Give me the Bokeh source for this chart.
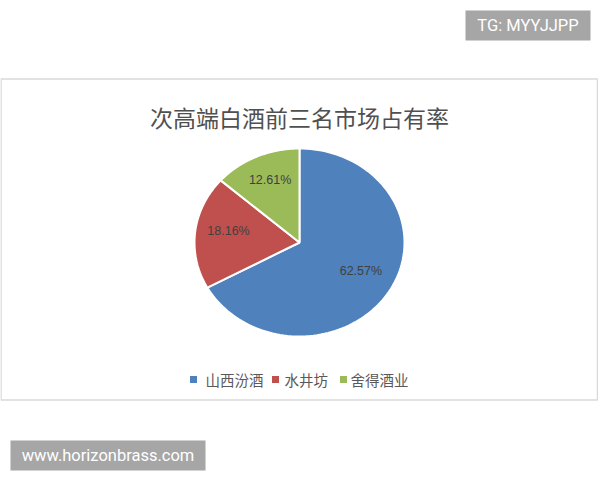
import numpy as np
from bokeh.plotting import figure
from bokeh.models import Range1d, ColumnDataSource
from bokeh.core.properties import value
from bokeh.embed import file_html
from bokeh.resources import INLINE

# ---- data ----
title_text = "次高端白酒前三名市场占有率"
categories = ["山西汾酒", "水井坊", "舍得酒业"]
shares = [62.57, 18.16, 12.61]
share_labels = ["62.57%", "18.16%", "12.61%"]
colors = ["#4F81BD", "#C0504D", "#9BBB59"]
watermark_top = "TG: MYYJJPP"
watermark_bottom = "www.horizonbrass.com"

# ---- layout (pixel coordinates of the window) ----
W, H = 598, 472
p = figure(width=W, height=H, x_range=Range1d(0, W), y_range=Range1d(H, 0),
           output_backend="svg", toolbar_location=None, min_border=0,
           x_axis_type=None, y_axis_type=None)
p.grid.visible = False
p.outline_line_color = None
p.background_fill_color = "white"
p.border_fill_color = "white"

# chart frame
p.quad(left=[0.5], right=[597], top=[78.5], bottom=[399.5], fill_color="white",
       line_color="#d9d9d9", line_width=1.5)

# title
p.text(x=[299], y=[116], text=[title_text], text_align="center", text_baseline="middle",
       text_font=value("Noto Sans CJK SC"), text_font_size="23px", text_color="#505050")

# pie (elliptical because the picture is stretched horizontally)
cx, cy, rx, ry = 299, 242, 105, 94
vals = np.array(shares, dtype=float)
frac = vals / vals.sum()
ends = np.cumsum(frac) * 2 * np.pi
starts = ends - frac * 2 * np.pi
xs, ys, lx, ly = [], [], [], []
for a0, a1 in zip(starts, ends):
    t = np.linspace(a0, a1, 120)
    xs.append(np.concatenate([[cx], cx + rx * np.sin(t), [cx]]))
    ys.append(np.concatenate([[cy], cy - ry * np.cos(t), [cy]]))
    m = (a0 + a1) / 2
    lx.append(cx + 0.68 * rx * np.sin(m))
    ly.append(cy - 0.68 * ry * np.cos(m) - 4)
src = ColumnDataSource(dict(xs=xs, ys=ys, color=colors))
p.patches("xs", "ys", source=src, fill_color="color", line_color="white", line_width=2)

p.text(x=lx, y=ly, text=share_labels, text_align="center", text_baseline="middle",
       text_font=value("Liberation Sans"), text_font_size="12.5px", text_color="#404040")

# legend
sq_x = [193, 275, 343]
tx_x = [205, 284, 350]
p.scatter(x=sq_x, y=[379] * 3, marker="square", size=7, fill_color=colors, line_color=None)
p.text(x=tx_x, y=[379] * 3, text=categories, text_align="left", text_baseline="middle",
       text_font=value("Noto Sans CJK SC"), text_font_size="14.5px", text_color="#595959")

# watermarks
p.quad(left=[465], right=[590], top=[10], bottom=[40], fill_color="#a6a6a6", line_color=None)
p.text(x=[527.5], y=[25], text=[watermark_top], text_align="center", text_baseline="middle",
       text_font=value("Roboto"), text_font_size="16.5px", text_color="white")
p.quad(left=[10], right=[205], top=[440], bottom=[470], fill_color="#a6a6a6", line_color=None)
p.text(x=[107.5], y=[455], text=[watermark_bottom], text_align="center", text_baseline="middle",
       text_font=value("Roboto"), text_font_size="16.5px", text_color="white")

open("out.html", "w").write(file_html(p, INLINE))
